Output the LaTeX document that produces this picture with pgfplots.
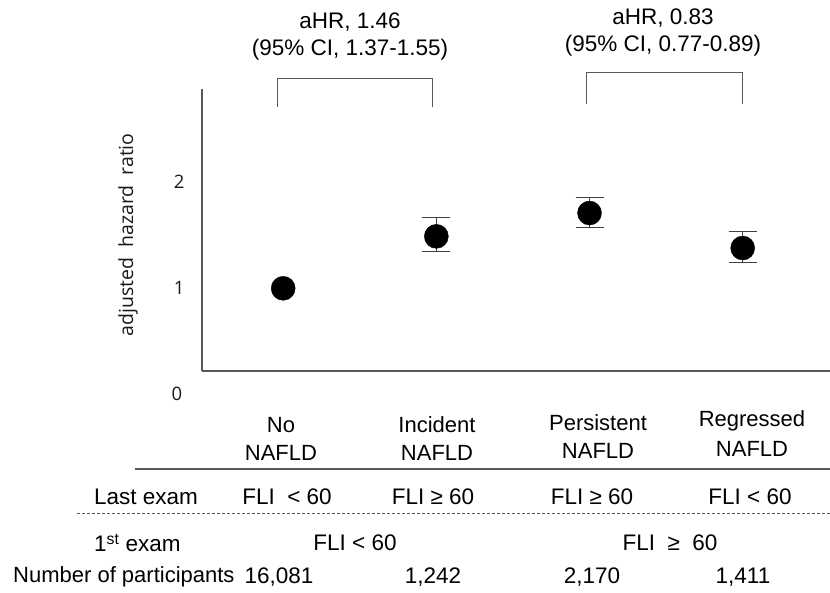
\documentclass[border=0pt]{standalone}
\usepackage{pgfplots}
\pgfplotsset{compat=1.18}
\usepackage{fontspec}
\setmainfont{Liberation Sans}
\newfontfamily\osans{Open Sans}
\begin{document}
\begin{tikzpicture}
\useasboundingbox (0,0) rectangle (830pt,-592pt);
\begin{axis}[
  at={(202pt,-371pt)}, anchor=south west,
  scale only axis, width=628pt, height=282pt,
  xmin=0.47, xmax=4.57, ymin=0.22, ymax=2.88,
  axis x line*=bottom, axis y line*=left,
  axis line style={draw=black!65, line width=1.2pt, -},
  xtick=\empty, ytick={1,2}, major tick length=0pt,
  /pgf/number format/assume math mode=true,
  yticklabel style={font=\osans\fontsize{18.5}{20}\selectfont, text=black!90, xshift=-14pt},
  clip=false,
]
\addplot[only marks, mark=*, mark size=12pt, black] coordinates {(1,1.00)};
\addplot[only marks, mark=*, mark size=12pt, black,
  error bars/.cd, y dir=both, y explicit,
  error mark options={rotate=90, mark size=14pt, line width=1pt, black!75},
  error bar style={line width=1pt, black!75}]
  coordinates {
  (2,1.49) += (0,0.18) -= (0,0.14)
  (3,1.71) += (0,0.15) -= (0,0.14)
  (4,1.38) += (0,0.16) -= (0,0.14)
  };
\node[font=\osans\fontsize{18.5}{20}\selectfont, text=black!90] at ([xshift=-25pt]axis cs:0.47,0) {0};
\draw[black!65, line width=1pt] (axis cs:0.966,2.71) |- (axis cs:1.978,2.98) -- (axis cs:1.978,2.71);
\draw[black!65, line width=1pt] (axis cs:2.98,2.74) |- (axis cs:3.998,3.04) -- (axis cs:3.998,2.74);
\end{axis}
\begin{scope}[x=1pt,y=-1pt]
\node[rotate=90, font=\osans\fontsize{19.5}{22}\selectfont, text=black!90] at (128,235) {adjusted\ \ hazard\ \ ratio};
\begin{scope}[every node/.style={font=\fontsize{22.5}{26}\selectfont, inner sep=0pt}]
\node at (350,22) {aHR, 1.46};
\node at (350,50) {(95\% CI, 1.37-1.55)};
\node at (663,18) {aHR, 0.83};
\node at (663,46) {(95\% CI, 0.77-0.89)};
\end{scope}
\begin{scope}[every node/.style={font=\fontsize{22}{26}\selectfont, inner sep=0pt}]
\node at (281,425) {No};
\node at (281,453) {NAFLD};
\node at (437,425) {Incident};
\node at (437,453) {NAFLD};
\node at (598,423) {Persistent};
\node at (598,451) {NAFLD};
\node at (752,421) {Regressed};
\node at (752,449) {NAFLD};
\end{scope}
\draw[black!65, line width=1.2pt] (135,469) -- (830,469);
\draw[black!65, line width=1pt, dash pattern=on 3pt off 2pt] (77,513) -- (830,513);
\begin{scope}[every node/.style={font=\fontsize{22.5}{26}\selectfont, inner sep=0pt}]
\node[anchor=west] at (94,497) {Last exam};
\node at (287,497) {FLI\ \ <\ 60};
\node at (433,497) {FLI ≥ 60};
\node at (592,497) {FLI ≥ 60};
\node at (750,497) {FLI < 60};
\node[anchor=west] at (94,543) {1\textsuperscript{st} exam};
\node at (355,543) {FLI < 60};
\node at (670,543) {FLI\ \ ≥\ \ 60};
\node[anchor=west, font=\fontsize{22}{26}\selectfont] at (13,577) {Number of participants};
\node at (279,577) {16,081};
\node at (433,577) {1,242};
\node at (592,577) {2,170};
\node at (743,577) {1,411};
\end{scope}
\end{scope}
\end{tikzpicture}
\end{document}
